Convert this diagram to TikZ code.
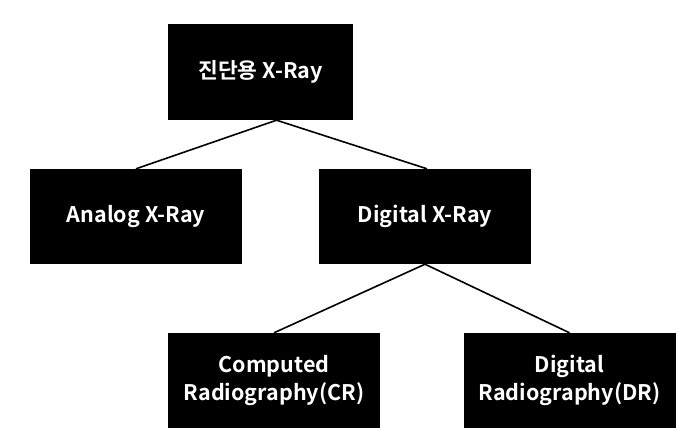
\documentclass[tikz,border=0pt]{standalone}
\usepackage{fontspec}
\setmainfont{Noto Sans CJK KR Bold}
\usetikzlibrary{positioning}

\begin{document}
\begin{tikzpicture}[
x=1pt, y=-1pt,
box/.style={fill=black, text=white, align=center, inner sep=0pt, minimum width=212pt, minimum height=95pt, font=\fontsize{21.5}{28}\selectfont},
link/.style={line width=1.6pt}
]
\useasboundingbox (0,0) rectangle (700,444);
\node[box, minimum width=185pt, minimum height=96pt] (xray) at (260.5,72) {진단용 X-Ray};
\node[box] (analog) at (136,216.5) {Analog X-Ray};
\node[box] (digital) at (425,216.5) {Digital X-Ray};
\node[box] (cr) at (274,380.5) {Computed\\Radiography(CR)};
\node[box] (dr) at (569.5,380.5) {Digital\\Radiography(DR)};
\draw[link] ([xshift=16pt]xray.south)--(analog.north);
\draw[link] ([xshift=16pt]xray.south)--([xshift=2pt]digital.north);
\draw[link] (digital.south)--(cr.north);
\draw[link] (digital.south)--(dr.north);
\end{tikzpicture}
\end{document}
